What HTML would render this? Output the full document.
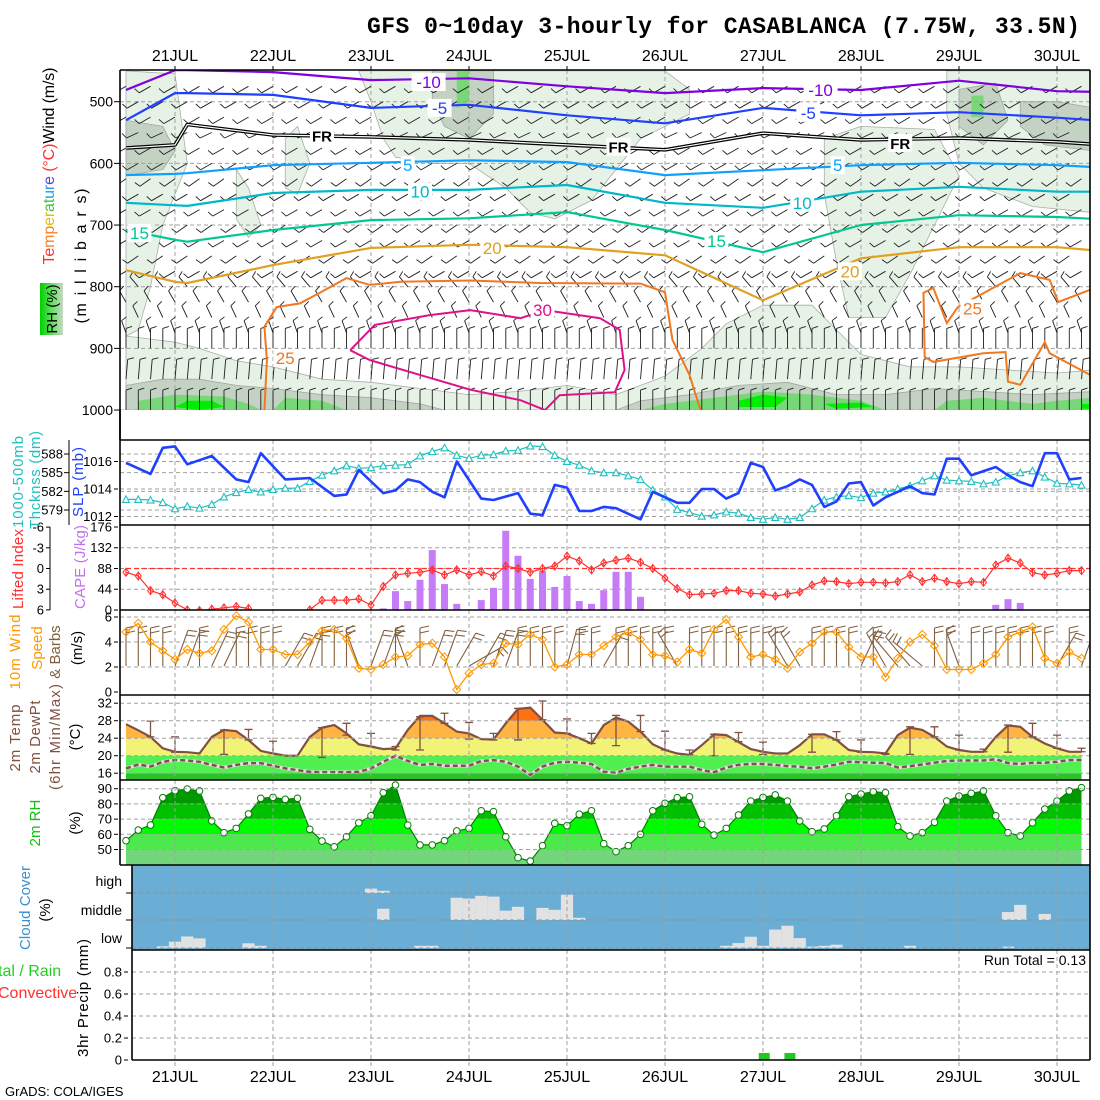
<!DOCTYPE html>
<html><head><meta charset="utf-8"><title>GFS meteogram Casablanca</title>
<style>
html,body{margin:0;padding:0;background:#fff;}
svg{display:block;font-family:"Liberation Sans",sans-serif;}
.tk{font-size:13px;fill:#000;}
.dl{font-size:16px;fill:#000;}
</style></head>
<body>
<svg id="chart" width="1100" height="1100" viewBox="0 0 1100 1100" xmlns="http://www.w3.org/2000/svg">
<defs>
<clipPath id="cTop"><rect x="120" y="70" width="970" height="340"/></clipPath>
<clipPath id="cSlp"><rect x="120" y="440" width="970" height="85"/></clipPath>
<clipPath id="cCape"><rect x="120" y="525" width="970" height="85"/></clipPath>
<clipPath id="cWind"><rect x="120" y="610" width="970" height="85"/></clipPath>
<clipPath id="cTemp"><rect x="120" y="695" width="970" height="85"/></clipPath>
<clipPath id="cRh"><rect x="120" y="780" width="970" height="85"/></clipPath>
<clipPath id="cCloud"><rect x="132" y="865" width="958" height="85"/></clipPath>
<clipPath id="cPr"><rect x="132" y="950" width="958" height="110"/></clipPath>
<linearGradient id="rhg" x1="0" y1="0" x2="1" y2="0"><stop offset="0" stop-color="#00d000"/><stop offset="0.5" stop-color="#60e060"/><stop offset="1" stop-color="#c8d8c8"/></linearGradient>
</defs>
<g id="layer"></g>

<text x="1080" y="33" text-anchor="end" font-family="Liberation Mono, monospace" font-weight="bold" font-size="23" textLength="713">GFS 0~10day 3-hourly for CASABLANCA (7.75W, 33.5N)</text>

<text transform="rotate(-90 54 166)" x="54" y="166" text-anchor="middle" font-size="16" textLength="197"><tspan fill="#ff3030">Te</tspan><tspan fill="#ff8020">mp</tspan><tspan fill="#e0c000">er</tspan><tspan fill="#40c040">at</tspan><tspan fill="#20a0e0">ur</tspan><tspan fill="#6040e0">e</tspan><tspan fill="#ff3030"> (°C)</tspan><tspan fill="#000">Wind (m/s)</tspan></text>
<rect x="40" y="283" width="23" height="52" fill="url(#rhg)"/>
<text transform="rotate(-90 57 309)" x="57" y="309" text-anchor="middle" font-size="15">RH (%)</text>
<text transform="rotate(-90 86 256)" x="86" y="256" text-anchor="middle" font-size="16" textLength="135">(m i l l i b a r s)</text>

<text transform="rotate(-90 23 482)" x="23" y="482" text-anchor="middle" font-size="15" fill="#20c0c0" textLength="92">1000-500mb</text>
<text transform="rotate(-90 40 480)" x="40" y="480" text-anchor="middle" font-size="15" fill="#20c0c0" textLength="98">Thcknss (dm)</text>
<text transform="rotate(-90 83 482)" x="83" y="482" text-anchor="middle" font-size="15" fill="#2040ff" textLength="70">SLP (mb)</text>

<text transform="rotate(-90 23 569)" x="23" y="569" text-anchor="middle" font-size="15" fill="#ff3030" textLength="80">Lifted Index</text>
<text transform="rotate(-90 85 567)" x="85" y="567" text-anchor="middle" font-size="15" fill="#c070f0" textLength="84">CAPE (J/kg)</text>

<text transform="rotate(-90 20 652)" x="20" y="652" text-anchor="middle" font-size="15" fill="#ff9900" textLength="75">10m Wind</text>
<text transform="rotate(-90 42 648)" x="42" y="648" text-anchor="middle" font-size="15" fill="#ff9900">Speed</text>
<text transform="rotate(-90 60 652)" x="60" y="652" text-anchor="middle" font-size="15" fill="#806040">&amp; Barbs</text>
<text transform="rotate(-90 82 648)" x="82" y="648" text-anchor="middle" font-size="15">(m/s)</text>

<text transform="rotate(-90 20 738)" x="20" y="738" text-anchor="middle" font-size="15" fill="#805040" textLength="67">2m Temp</text>
<text transform="rotate(-90 40 737)" x="40" y="737" text-anchor="middle" font-size="15" fill="#805040" textLength="73">2m DewPt</text>
<text transform="rotate(-90 60 737)" x="60" y="737" text-anchor="middle" font-size="15" fill="#805040" textLength="106">(6hr Min/Max)</text>
<text transform="rotate(-90 80 737)" x="80" y="737" text-anchor="middle" font-size="15">(°C)</text>

<text transform="rotate(-90 40 823)" x="40" y="823" text-anchor="middle" font-size="15" fill="#10c010">2m RH</text>
<text transform="rotate(-90 80 823)" x="80" y="823" text-anchor="middle" font-size="15">(%)</text>

<text transform="rotate(-90 30 908)" x="30" y="908" text-anchor="middle" font-size="15" fill="#3890d0" textLength="84">Cloud Cover</text>
<text transform="rotate(-90 50 910)" x="50" y="910" text-anchor="middle" font-size="15">(%)</text>
<text x="122" y="886" text-anchor="end" font-size="14">high</text>
<text x="122" y="915" text-anchor="end" font-size="14">middle</text>
<text x="122" y="943" text-anchor="end" font-size="14">low</text>

<text x="-2" y="976" font-size="16" fill="#20d020">tal / Rain</text>
<text x="-2" y="998" font-size="16" fill="#ff3030">Convective</text>
<text transform="rotate(-90 88 998)" x="88" y="998" text-anchor="middle" font-size="15" textLength="118">3hr Precip (mm)</text>
<text x="1086" y="965" text-anchor="end" font-size="14">Run Total = 0.13</text>
<text x="5" y="1096" font-size="13">GrADS: COLA/IGES</text>
</svg>

<script>
// ===== data (3-hourly steps from 20JUL 12Z) =====
const dayLabels = ["21JUL","22JUL","23JUL","24JUL","25JUL","26JUL","27JUL","28JUL","29JUL","30JUL"];
const pressTicks = [500,600,700,800,900,1000];
const slpTicks = [1012,1014,1016];
const thickTicks = [579,582,585,588];
const capeTicks = [0,44,88,132,176];
const liTicks = [-6,-3,0,3,6];
const windTicks = [0,2,4,6];
const tempTicks = [16,20,24,28,32];
const rhTicks = [50,60,70,80,90];
const precipTicks = [0,0.2,0.4,0.6,0.8];
const precipTickLabels = ["0","0.2","0.4","0.6","0.8"];

const slpStep = [0,2,3,4,5,7,9,10,11,13,15,17,18,19,21,22,23,24,25,26,27,29,30,32,33,34,35,36,37,38,39,40,42,43,45,46,47,48,49,50,51,52,53,54,55,56,57,58,59,60,61,62,63,64,65,66,67,68,69,70,71,72,73,74,75,76,77,78];
const slpVal = [1015.9,1015.1,1017.0,1017.1,1015.8,1016.4,1014.7,1014.5,1016.6,1014.7,1014.8,1013.5,1013.6,1015.4,1013.7,1013.9,1014.7,1014.5,1013.8,1013.4,1016.0,1013.3,1013.2,1013.7,1012.2,1012.1,1014.3,1014.1,1012.4,1012.4,1012.7,1012.6,1011.8,1013.8,1013.0,1013.0,1014.0,1014.0,1013.3,1013.7,1015.9,1015.6,1013.9,1014.2,1014.7,1014.3,1012.7,1013.1,1014.4,1014.5,1012.8,1013.4,1013.8,1014.2,1013.7,1013.6,1016.2,1016.2,1015.0,1015.3,1015.6,1015.0,1014.5,1014.2,1016.6,1016.6,1014.7,1014.8];
const thick = [580.7,580.7,580.6,580.2,579.2,579.6,579.3,579.9,581.1,581.8,582.3,581.9,582.3,582.5,582.5,583.6,584.6,585.3,586.1,585.7,585.8,586.1,586.2,586.3,587.7,588.4,589.0,587.8,587.3,587.8,587.9,588.5,588.6,589.3,589.2,587.8,586.8,586.2,585.3,585.0,585.0,584.5,583.9,582.2,581.1,579.1,578.6,578.0,578.2,578.7,578.5,577.8,577.5,577.8,577.5,577.8,579.2,580.6,581.1,581.3,581.0,581.7,581.9,582.4,582.9,583.7,584.5,583.8,583.7,583.6,583.2,583.5,584.5,585.0,585.3,584.3,583.3,583.2,583.0];
const liVal = [0.55,1.09,3.2,3.8,5.0,6.0,6.1,5.9,5.7,5.5,5.8,7,7,7,7,6.0,4.6,4.6,4.6,4.4,5.3,2.6,0.94,0.7,0.55,0.2,0.94,0.2,0.94,0.45,1.09,-0.36,0,0.55,0,-0.36,-1.8,-1.1,0.2,-0.8,-1.2,-1.5,-0.9,0,1.4,2.9,3.8,3.7,3.6,3.2,3.2,3.6,3.7,4.0,3.7,3.4,2.4,1.8,1.9,2.2,2.0,2.0,2.1,1.9,0.9,1.9,1.4,1.9,2.2,1.9,2.0,-0.5,-1.5,-0.8,0.6,0.94,0.7,0.3,0.3];
const capeStep = [5,21,22,23,24,25,26,27,29,30,31,32,33,34,35,36,37,38,39,40,41,42,71,72,73];
const capeVal = [1,3.5,40,19,64,127,55,13,21,47,168,115,66,83,49,72,19,13,42,81,81,28,11,23,15];
const windSpd = [4.8,5.5,4.0,3.3,2.6,3.4,3.1,3.3,5.0,6.1,5.6,3.4,3.4,3.0,3.0,4.0,4.9,5.0,4.3,1.9,1.8,2.2,2.8,2.9,3.8,3.9,2.8,0.2,1.5,2.2,2.3,3.9,3.8,4.6,4.2,2.0,2.2,3.0,3.0,3.7,4.4,4.8,4.2,3.0,2.9,2.4,3.4,3.1,5.0,5.8,4.4,2.8,3.0,2.6,1.9,3.2,3.9,4.8,4.8,3.6,2.8,2.8,1.2,2.7,4.0,4.6,3.7,1.8,1.8,1.8,2.3,3.0,4.4,4.8,5.2,2.7,2.3,3.2,2.7];
const sfcDir = [0,0,0,0,20,20,0,25,25,0,0,0,0,30,30,20,0,0,0,340,20,20,0,340,0,20,20,30,60,30,20,20,0,0,0,0,15,0,0,30,0,0,0,0,0,330,0,0,0,0,0,0,0,0,330,330,0,0,0,0,25,0,330,320,320,310,0,0,340,0,0,0,0,0,0,0,30,0,20];
const temp2m = [27.2,25.8,24.3,21.7,20.9,20.8,20.5,24.3,25.9,25.6,23.6,21.1,20.5,20.0,20.0,24.3,26.4,27.0,25.1,22.6,22.1,21.5,21.7,25.9,29.1,29.1,27.4,25.5,25.1,23.8,23.7,27.4,30.7,31.0,28.2,25.3,25.1,24.0,22.8,27.0,28.7,27.8,25.5,22.6,21.3,20.5,20.2,22.4,24.9,24.7,23.1,21.5,20.9,20.5,20.5,22.4,24.9,24.9,23.6,21.3,20.9,20.8,20.5,24.7,26.4,25.9,24.3,22.1,21.3,20.9,20.9,24.3,26.9,26.6,24.3,22.8,21.7,20.9,20.9];
const dew2m = [17.1,18.0,17.5,18.6,19.0,18.9,18.6,17.9,17.3,17.9,18.3,18.3,17.7,17.1,16.7,16.3,16.2,16.2,16.2,16.3,17.1,18.6,20.0,18.8,17.9,18.1,17.7,17.7,17.7,18.8,19.0,18.6,17.5,15.6,17.5,18.4,18.6,18.4,18.1,16.3,16.1,17.0,17.5,17.9,17.5,17.5,17.5,16.7,16.2,17.3,17.9,18.1,18.1,17.9,17.6,17.5,17.1,17.5,18.0,18.6,18.5,18.4,18.3,17.3,17.6,18.0,18.4,18.8,18.9,18.9,18.9,19.2,18.3,18.1,18.4,18.4,18.6,19.0,19.0];
const tbStep = [2,4,8,10,12,16,18,20,22,24,26,28,30,32,34,36,38,40,42,44,46,48,50,52,56,58,60,62,64,66,68,70,72,74,76,78];
const tbMax = [27.9,24.3,25.9,26.0,23.3,26.4,27.4,25.1,22.1,28.9,29.7,27.6,25.1,30.8,32.5,28.4,25.1,29.2,29.2,25.6,21.3,24.9,25.3,23.1,24.9,25.5,23.6,20.5,26.6,26.6,24.7,21.5,27.0,27.4,24.7,21.7];
const tbMin = [24.3,20.8,20.3,23.6,20.5,19.6,24.7,22.1,21.3,21.3,27.4,23.8,23.6,23.6,28.2,25.1,22.8,22.3,25.5,21.3,20.2,20.0,23.2,20.3,20.8,23.6,20.8,20.3,20.3,24.3,21.3,20.9,20.8,24.3,21.7,20.9];
const rh2m = [55.8,62.8,66.1,84.1,88.7,89.8,88.5,68.8,61.1,63.9,73.4,83.7,84.3,83.0,83.7,63.3,55.6,51.8,58.4,67.6,72.2,87.4,92.4,66.1,53.0,53.0,55.8,62.2,63.9,75.5,74.9,58.4,44.6,42.4,52.5,67.2,65.7,73.2,75.5,53.8,48.6,52.5,60.0,75.5,80.4,84.1,84.7,66.6,59.5,63.9,72.7,81.9,84.3,85.9,81.9,68.8,61.7,63.5,72.2,84.7,86.5,88.0,87.4,65.0,58.9,61.1,67.9,81.9,85.2,87.0,88.5,72.2,61.1,58.9,67.6,76.6,81.9,88.5,90.7];
const lowStep = [3,4,5,6,10,11,24,25,49,50,51,52,53,54,55,56,57,58,64,72];
const lowVal = [6,23,42,35,17,8,8,8,8,18,41,8,67,81,36,5,8,12,8,5];
const midStep = [21,27,28,29,30,31,32,34,35,36,37,72,73,75];
const midVal = [41,81,78,88,85,34,48,44,37,92,8,29,55,22];
const highStep = [20,21];
const highVal = [16,8];
const precipStep = [52.1,54.2];
const precipVal = [0.064,0.064];

// upper-air temperature contours: steps and pressures (hPa)
const ctSteps = [0,4,5,12,20,28,36,44,52,60,68,76,79];
const ctLevels = ["-10","-5","FR","5","10","15","20"];
const ctM10 = [481,449,449,452,465,462,475,486,478,481,466,483,484];
const ctM5 = [530,486,486,489,510,505,522,535,510,522,517,526,530];
const ctFR = [575,570,537,554,557,562,570,578,551,562,559,565,569];
const ctP5 = [619,617,616,603,599,595,598,619,611,603,599,603,606];
const ctP10 = [664,668,669,648,643,643,635,664,672,646,638,646,646];
const ctP15 = [708,724,727,708,692,689,679,708,744,700,684,687,690];
const ctP20 = [773,792,794,765,737,732,736,749,822,754,736,736,741];
const c25aStep = [11.3,11.5,11.3,12.3,14.2,15.8,18.0,19.9,22.4,28.1,33.8,42.0,44.0,44.6,46.0,46.9];
const c25aP = [1000,919,865,833,827,810,786,797,792,790,794,795,809,886,943,1000];
const c25bStep = [78.7,75.4,75.0,73.0,72.0,71.8,70.0,65.9,65.2,65.1,65.9,67.0,67.9,73.0,75.4,76.1,78.7];
const c25bP = [943,908,890,959,954,906,908,922,914,810,802,859,833,778,789,825,805];
const c30Step = [18.3,20.3,24.8,28.1,32.2,34.2,38.7,40.3,40.7,39.9,35.4,34.2,32.2,28.1,24.0,19.9,18.3];
const c30P = [903,862,846,838,851,838,851,870,935,971,976,1000,984,967,943,919,903];
const ctLabStep = [24.7,25.6,16,40.2,63.2,23,24,1.1,29.9,13,34,56.7,55.7,58.1,55.2,48.2,59.1,69.1];
const ctLabP = [468,510,555,573,567,603,646,713,737,916,838,481,518,603,664,726,775,835];
const ctLabText = ["-10","-5","FR","FR","FR","5","10","15","20","25","30","-10","-5","5","10","15","20","25"];
const ctLabColor = ["#8000e0","#2040ff","#000","#000","#000","#10a0ff","#00b8c8","#00c890","#e0a020","#f07820","#e0108a","#8000e0","#2040ff","#10a0ff","#00b8c8","#00c890","#e0a020","#f07820"];

// RH shading regions (step, pressure)
const rhLight = [
 [[0,1000],[0,880],[4,890],[6,900],[9,920],[12,930],[16,950],[20,955],[24,965],[28,975],[32,970],[36,960],[40,975],[44,945],[47,900],[49,860],[52,830],[56,830],[58,870],[60,910],[64,930],[68,930],[72,935],[76,940],[79,935],[79,1000]],
 [[0,450],[4,455],[5,600],[3,700],[2,800],[1,870],[0,880]],
 [[19,450],[20,500],[21,560],[22,590],[25,600],[28,600],[31,640],[33,680],[35,690],[38,660],[40,610],[42,560],[46,520],[46,480],[44,450]],
 [[57,560],[60,540],[66,545],[68,620],[66,700],[64,780],[62,850],[59,850],[58,760],[57,650]],
 [[67,450],[79,450],[79,680],[74,670],[70,640],[68,600],[67,520]],
 [[13,560],[14,540],[15,600],[14,650],[13,640]],
 [[9,610],[10,640],[11,700],[10,720],[9,690]]
];
const rhMid = [
 [[0,1000],[0,960],[3,950],[6,950],[9,960],[12,965],[16,975],[20,980],[24,990],[26,1000]],
 [[40,1000],[42,985],[46,975],[50,960],[54,955],[58,975],[62,975],[66,965],[70,970],[74,975],[79,970],[79,1000]],
 [[0,530],[3,540],[4,580],[3,610],[0,620]],
 [[25,450],[30,450],[30,520],[28,560],[26,540],[25,500]],
 [[68,480],[71,470],[72,530],[70,570],[68,540]],
 [[73,500],[76,500],[79,510],[79,580],[75,570],[73,540]]
];
const rhHigh = [
 [[1,1000],[1,985],[4,975],[8,978],[10,990],[11,1000]],
 [[12,1000],[13,980],[16,985],[18,1000]],
 [[42,1000],[44,990],[48,980],[52,970],[56,975],[60,985],[62,1000]],
 [[66,1000],[67,985],[70,980],[74,990],[76,985],[79,980],[79,1000]],
 [[27,450],[28,450],[28,500],[27,510]],
 [[69,490],[70,490],[70,525],[69,525]]
];
const rhVHigh = [
 [[4,995],[5,985],[7,985],[8,995],[6,1000]],
 [[50,985],[52,975],[54,980],[53,995],[50,995]],
 [[57,990],[60,988],[61,995],[58,998]],
 [[78,990],[79,990],[79,998],[78,998]]
];
// upper wind barbs: levels, directions (deg from), feathers
const barbLevels = [475,500,525,550,575,600,625,650,675,700,725,750,775,800,825,850,875,900,950,1000];
const barbDirs = [240,240,240,245,240,240,235,240,240,235,240,235,240,320,330,335,340,0,5,0];
const barbFeathers = [1,1,1,1,1,1,1,1,1,1,1,1,1,1,1,1,1,1,1,1];

// ===== scales =====
const NS = "http://www.w3.org/2000/svg";
const root = document.getElementById("layer");
const S = 12.25, X0 = 126;
function X(i){ return X0 + i*S; }
function DX(d){ return 175 + 98*d; }
function YP(p){ return 101.7 + (p-500)*0.6167; }
function YS(v){ return 489 - (v-1014)*13.75; }
function YT(v){ return 510 - (v-579)*6.22; }
function YC(v){ return 610 - v*0.4716; }
function YL(v){ return 568.5 + v*6.9; }
function YW(v){ return 692 - v*12.5; }
function YTm(v){ return 755.7 - (v-20)*4.375; }
function YR(v){ return 834.3 - (v-60)*1.52; }
function YPr(v){ return 1060 - v*110; }

function mk(tag, attrs, parent){
  const e = document.createElementNS(NS, tag);
  for (const k in attrs) e.setAttribute(k, attrs[k]);
  (parent || root).appendChild(e);
  return e;
}
function grp(clip){
  return mk("g", clip ? {"clip-path":"url(#"+clip+")"} : {});
}
function pts(xs, ys){ return xs.map((x,k)=>x.toFixed(1)+","+ys[k].toFixed(1)).join(" "); }

// ===== top panel =====
const gTop = grp("cTop");


const bgTop = mk("rect",{x:120,y:70,width:970,height:340,fill:"#fff"},gTop);


function drawRegions(list, fill, stroke, name){
  list.forEach(poly=>{
    const p = mk("polygon",{points:pts(poly.map(q=>X(q[0])), poly.map(q=>YP(q[1]))), fill:fill, stroke:stroke, "stroke-width":0.8, "stroke-linejoin":"round"}, gTop);
    
    
  });
}
drawRegions(rhLight, "#e6f2e6", "#a8b0a8", "rh-shading-30");
drawRegions(rhMid, "#c4d2c4", "#a0a8a0", "rh-shading-50");
drawRegions(rhHigh, "#78d878", "none", "rh-shading-70");
drawRegions(rhVHigh, "#00ee00", "none", "rh-shading-90");

for (let d=0; d<dayLabels.length; d++){
  const l = mk("line",{x1:DX(d),x2:DX(d),y1:70,y2:410,stroke:"#a0a0a0","stroke-dasharray":"4,3","stroke-width":1},gTop);
  
  
}
pressTicks.forEach(p=>{
  const l = mk("line",{x1:120,x2:1090,y1:YP(p),y2:YP(p),stroke:"#a0a0a0","stroke-dasharray":"4,3","stroke-width":1},gTop);
  
  
});

function barb(parent, x, y, dir, len, nf, flen, color, w){
  const a = dir*Math.PI/180;
  const vx = Math.sin(a), vy = -Math.cos(a);
  const px = -vy, py = vx;
  const tx = x + vx*len, ty = y + vy*len;
  let d = "M"+x.toFixed(1)+","+y.toFixed(1)+"L"+tx.toFixed(1)+","+ty.toFixed(1);
  for (let f=0; f<nf; f++){
    const bx = tx - vx*f*5, by = ty - vy*f*5;
    d += "M"+bx.toFixed(1)+","+by.toFixed(1)+"L"+(bx+px*flen+vx*2).toFixed(1)+","+(by+py*flen+vy*2).toFixed(1);
  }
  return mk("path",{d:d,stroke:color,"stroke-width":w,fill:"none"},parent);
}
barbLevels.forEach((p,li)=>{
  const dense = p >= 900;
  const stepInc = dense ? 1 : 2;
  const off = dense ? 0 : (li%2);
  for (let i=off; i<=78; i+=stepInc){
    const b = barb(gTop, X(i), YP(p), barbDirs[li], dense?20:13, barbFeathers[li], 6, "#202020", 0.9);
    
    
  }
});

const ctData = [ctM10, ctM5, ctFR, ctP5, ctP10, ctP15, ctP20];
const ctColors = ["#8000e0","#2040ff","#000","#10a0ff","#00b8c8","#00c890","#e0a020"];
ctData.forEach((arr,k)=>{
  const ptsStr = pts(ctSteps.map(X), arr.map(YP));
  if (ctLevels[k]==="FR"){
    const o = mk("polyline",{points:ptsStr,fill:"none",stroke:"#000","stroke-width":3.6,"stroke-linejoin":"round"},gTop);
    
    
    const inner = mk("polyline",{points:ptsStr,fill:"none",stroke:"#fff","stroke-width":1.2},gTop);
    
    
  } else {
    const o = mk("polyline",{points:ptsStr,fill:"none",stroke:ctColors[k],"stroke-width":2.2,"stroke-linejoin":"round"},gTop);
    
    
  }
});
const c25a = mk("polyline",{points:pts(c25aStep.map(X), c25aP.map(YP)),fill:"none",stroke:"#f07820","stroke-width":2},gTop);


const c25b = mk("polyline",{points:pts(c25bStep.map(X), c25bP.map(YP)),fill:"none",stroke:"#f07820","stroke-width":2},gTop);


const c30 = mk("polyline",{points:pts(c30Step.map(X), c30P.map(YP)),fill:"none",stroke:"#e0108a","stroke-width":2},gTop);


ctLabText.forEach((t,k)=>{
  const x = X(ctLabStep[k]), y = YP(ctLabP[k]);
  const bg = mk("rect",{x:x-t.length*5-2,y:y-9,width:t.length*10+4,height:18,fill:"#fff"},gTop);
  
  
  const tx = mk("text",{x:x,y:y+6,"text-anchor":"middle","font-size":t==="FR"?15:17,fill:ctLabColor[k],"font-weight":t==="FR"?"bold":"normal"},gTop);
  tx.textContent = t;
  
  
});

// ===== generic panel helpers =====
function hgrid(vals, yf, x0, name){
  vals.forEach(v=>{
    const l = mk("line",{x1:x0,x2:1090,y1:yf(v),y2:yf(v),stroke:"#a0a0a0","stroke-dasharray":"4,3"});
    
    
  });
}
function vgrid(y1,y2){
  for (let d=0; d<dayLabels.length; d++){
    const l = mk("line",{x1:DX(d),x2:DX(d),y1:y1,y2:y2,stroke:"#a0a0a0","stroke-dasharray":"4,3"});
    
    
  }
}
function ticklabels(vals, labels, yf, xr, name, color){
  vals.forEach((v,k)=>{
    const t = mk("text",{x:xr,y:yf(v)+4.5,"text-anchor":"end",class:"tk",fill:color||"#000"});
    t.textContent = labels ? labels[k] : String(v);
    
    
    const tk = mk("line",{x1:xr+2,x2:xr+6,y1:yf(v),y2:yf(v),stroke:"#000"});
    
    
  });
}

pressTicks.forEach(p=>{
  const t = mk("text",{x:113,y:YP(p)+5,"text-anchor":"end","font-size":14});
  t.textContent = String(p);
  
  
  const tk = mk("line",{x1:114,x2:120,y1:YP(p),y2:YP(p),stroke:"#000"});
  
  
});

// ===== SLP / thickness =====
hgrid([1012,1014,1016], YS, 120, 'slp-gridline');
hgrid([579,582,585,588], YT, 120, 'thickness-gridline');
vgrid(440,525);
const gSlp = grp("cSlp");


const thLine = mk("polyline",{points:pts(thick.map((v,i)=>X(i)), thick.map(YT)),fill:"none",stroke:"#20c0c0","stroke-width":1.2},gSlp);


thick.forEach((v,i)=>{
  const x = X(i), y = YT(v);
  const m = mk("polygon",{points:(x-3.5)+","+(y+3)+" "+(x+3.5)+","+(y+3)+" "+x+","+(y-3.5),fill:"#fff",stroke:"#20c0c0","stroke-width":1.1},gSlp);
  
  
});
const slpLine = mk("polyline",{points:pts(slpStep.map(X), slpVal.map(YS)),fill:"none",stroke:"#2040ff","stroke-width":2.6,"stroke-linejoin":"round"},gSlp);


ticklabels(slpTicks, null, YS, 112, 'slp-tick-label');
thickTicks.forEach(v=>{
  const t = mk("text",{x:63,y:YT(v)+4.5,"text-anchor":"end",class:"tk"});
  t.textContent = String(v);
  
  
  const tk = mk("line",{x1:64,x2:69,y1:YT(v),y2:YT(v),stroke:"#000"});
  
  
});
const thAx = mk("line",{x1:69,x2:69,y1:440,y2:525,stroke:"#000"});



// ===== CAPE / LI =====
hgrid([44,88,132], YC, 120, 'cape-gridline');
vgrid(525,610);
const gCape = grp("cCape");


capeStep.forEach((s,k)=>{
  const y = YC(capeVal[k]);
  const r = mk("rect",{x:X(s)-3.5,y:y,width:7,height:610-y,fill:"#c67cf6"},gCape);
  
  
});
const li0 = mk("line",{x1:126,x2:1090,y1:YL(0),y2:YL(0),stroke:"#ff3030","stroke-dasharray":"5,3","stroke-width":1.3},gCape);


const liLine = mk("polyline",{points:pts(liVal.map((v,i)=>X(i)), liVal.map(YL)),fill:"none",stroke:"#ff3030","stroke-width":1.2},gCape);


liVal.forEach((v,i)=>{
  const x = X(i), y = YL(v);
  const m = mk("path",{d:"M"+x+","+(y-4)+"L"+(x+3)+","+y+"L"+x+","+(y+4)+"L"+(x-3)+","+y+"ZM"+x+","+(y-4)+"V"+(y+4),fill:"none",stroke:"#ff3030","stroke-width":1},gCape);
  
  
});
ticklabels(capeTicks, null, YC, 112, 'cape-tick-label');
ticklabels(liTicks, null, YL, 44, 'lifted-index-tick-label');
const liAx = mk("line",{x1:50,x2:50,y1:527,y2:610,stroke:"#000"});



// ===== 10m wind =====
hgrid([2,4,6], YW, 120, 'wind-gridline');
vgrid(610,695);
const gWind = grp("cWind");


sfcDir.forEach((d,i)=>{
  const b = barb(gWind, X(i), 666, d, 38, 2, 9, "#806040", 1.1);
  
  
});
const wsLine = mk("polyline",{points:pts(windSpd.map((v,i)=>X(i)), windSpd.map(YW)),fill:"none",stroke:"#ff9900","stroke-width":1.3},gWind);


windSpd.forEach((v,i)=>{
  const x = X(i), y = YW(v);
  const m = mk("path",{d:"M"+x+","+(y-4)+"L"+(x+4)+","+y+"L"+x+","+(y+4)+"L"+(x-4)+","+y+"Z",fill:"none",stroke:"#ff9900","stroke-width":1},gWind);
  
  
});
ticklabels(windTicks, null, YW, 112, 'wind-tick-label');

// ===== temperature =====
const gTemp = grp("cTemp");


const tClip = mk("clipPath",{id:"tArea"},document.querySelector("defs"));
mk("polygon",{points:X(0)+",780 "+pts(temp2m.map((v,i)=>X(i)), temp2m.map(YTm))+" "+X(78)+",780"},tClip);
const tBands = [[14,16,"#2cc02c"],[16,20,"#50f050"],[20,24,"#f2f276"],[24,28,"#ffb444"],[28,32,"#ff7010"],[32,40,"#f03000"]];
const gTB = mk("g",{"clip-path":"url(#tArea)"},gTemp);
tBands.forEach(b=>{
  const r = mk("rect",{x:120,y:YTm(b[1]),width:970,height:YTm(b[0])-YTm(b[1]),fill:b[2]},gTB);
  
  
});
hgrid(tempTicks, YTm, 120, 'temp-gridline');
vgrid(695,780);
const dewL = mk("polyline",{points:pts(dew2m.map((v,i)=>X(i)), dew2m.map(YTm)),fill:"none",stroke:"#e0e0e0","stroke-width":3.5},gTemp);


const dewD = mk("polyline",{points:pts(dew2m.map((v,i)=>X(i)), dew2m.map(YTm)),fill:"none",stroke:"#805050","stroke-width":2.5,"stroke-dasharray":"5,3"},gTemp);


const tLine = mk("polyline",{points:pts(temp2m.map((v,i)=>X(i)), temp2m.map(YTm)),fill:"none",stroke:"#805040","stroke-width":2.2},gTemp);


tbStep.forEach((s,k)=>{
  const x = X(s), y1 = YTm(tbMax[k]), y2 = YTm(tbMin[k]);
  const b = mk("path",{d:"M"+x+","+y1+"V"+y2+"M"+(x-4)+","+y1+"H"+(x+4)+"M"+(x-4)+","+y2+"H"+(x+4),stroke:"#805040","stroke-width":1.3,fill:"none"},gTemp);
  
  
});
ticklabels(tempTicks, null, YTm, 112, 'temp-tick-label');

// ===== RH =====
const gRh = grp("cRh");


const rClip = mk("clipPath",{id:"rArea"},document.querySelector("defs"));
mk("polygon",{points:X(0)+",865 "+pts(rh2m.map((v,i)=>X(i)), rh2m.map(YR))+" "+X(78)+",865"},rClip);
const rBands = [[30,50,"#74d67a"],[50,60,"#4ce84c"],[60,70,"#00fa00"],[70,80,"#00c000"],[80,100,"#009a00"]];
const gRB = mk("g",{"clip-path":"url(#rArea)"},gRh);
rBands.forEach(b=>{
  const r = mk("rect",{x:120,y:YR(b[1]),width:970,height:YR(b[0])-YR(b[1]),fill:b[2]},gRB);
  
  
});
hgrid(rhTicks, YR, 120, 'rh-gridline');
vgrid(780,865);
const rLine = mk("polyline",{points:pts(rh2m.map((v,i)=>X(i)), rh2m.map(YR)),fill:"none",stroke:"#008000","stroke-width":1.2},gRh);


rh2m.forEach((v,i)=>{
  const c = mk("circle",{cx:X(i),cy:YR(v),r:3.3,fill:"#fff",stroke:"#008000","stroke-width":1},gRh);
  
  
});
ticklabels(rhTicks, null, YR, 112, 'rh-tick-label');

// ===== cloud =====
const gCl = grp("cCloud");


const clBg = mk("rect",{x:132,y:865,width:958,height:85,fill:"#6aaed6"},gCl);


function cloudBars(steps, vals, bottom, name){
  steps.forEach((s,k)=>{
    const h = vals[k]/100*27.5;
    const r = mk("rect",{x:X(s)-6.125,y:bottom-h,width:12.25,height:h,fill:"#e2e2e2"},gCl);
    
    
  });
}
cloudBars(lowStep, lowVal, 948, 'low-cloud-bar');
cloudBars(midStep, midVal, 920, 'middle-cloud-bar');
cloudBars(highStep, highVal, 893, 'high-cloud-bar');
[893,920,948].forEach(y=>{
  const l = mk("line",{x1:132,x2:1090,y1:y,y2:y,stroke:"#909090","stroke-dasharray":"4,3"},gCl);
  
  
  const tk = mk("line",{x1:126,x2:132,y1:y,y2:y,stroke:"#000"});
  
  
});
vgrid(865,950);

// ===== precip =====
hgrid(precipTicks.slice(1), YPr, 132, 'precip-gridline');
vgrid(950,1068);
const gPr = grp("cPr");


precipStep.forEach((s,k)=>{
  const y = YPr(precipVal[k]);
  const r = mk("rect",{x:X(s)-5.5,y:y,width:11,height:1060-y,fill:"#20c820"},gPr);
  
  
});
ticklabels(precipTicks, precipTickLabels, YPr, 122, 'precip-tick-label');

// ===== frames =====
[[120,70,1090,70],[120,70,120,695],[120,695,120,865],[1090,70,1090,1060],[120,440,1090,440],[120,525,1090,525],[120,610,1090,610],[120,695,1090,695],[120,780,1090,780],[120,865,1090,865],[132,865,132,1060],[132,950,1090,950],[132,1060,1090,1060],[120,410,120,440]].forEach(s=>{
  const l = mk("line",{x1:s[0],y1:s[1],x2:s[2],y2:s[3],stroke:"#000","stroke-width":1.6});
  
  
});

// ===== date labels =====
dayLabels.forEach((lab,d)=>{
  const t1 = mk("text",{x:DX(d),y:61,"text-anchor":"middle",class:"dl"});
  t1.textContent = lab;
  
  
  const t2 = mk("text",{x:DX(d),y:1082,"text-anchor":"middle",class:"dl"});
  t2.textContent = lab;
  
  
  const k1 = mk("line",{x1:DX(d),x2:DX(d),y1:66,y2:70,stroke:"#000"});
  
  
});
</script>
</body></html>
